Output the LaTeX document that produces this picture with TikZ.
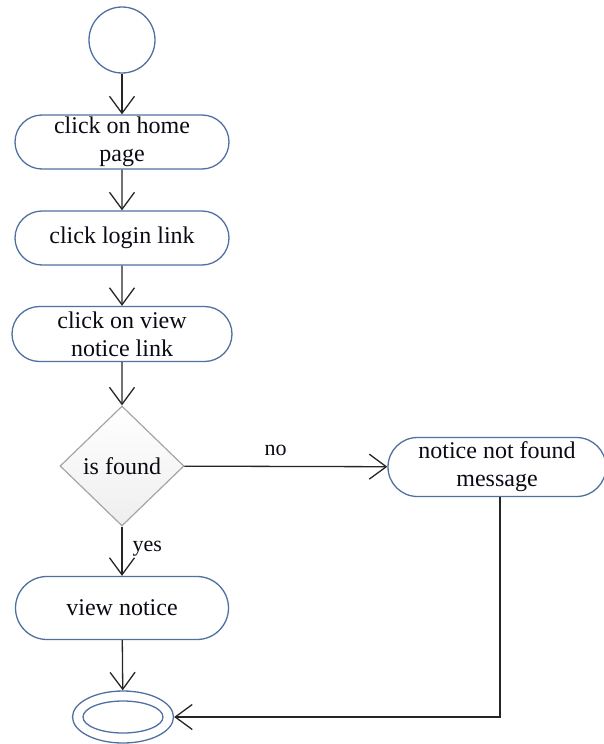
\documentclass[tikz,border=0pt]{standalone}
\usepackage{fontspec}
\setmainfont{Liberation Serif}
\usetikzlibrary{arrows.meta,shapes.geometric,shapes.misc}
\definecolor{edgeblue}{RGB}{80,112,160}
\definecolor{diagray}{RGB}{165,165,165}
\definecolor{fillgray}{RGB}{238,238,238}
\definecolor{ink}{RGB}{10,10,20}
\tikzset{
  action/.style={draw=edgeblue, line width=1.3pt, rounded rectangle, align=center,
    font=\fontsize{24}{28}\selectfont, text=ink, inner sep=0pt},
  decision/.style={draw=diagray, line width=1.2pt, diamond, aspect=1.03,
    top color=white, bottom color=fillgray, minimum width=124pt, minimum height=120pt,
    inner sep=0pt, font=\fontsize{24}{28}\selectfont, text=ink},
  barb/.tip={Straight Barb[length=17pt,width=25pt,line width=1.3pt]},
  flow/.style={draw=black!85, line width=1.3pt, -barb},
  lbl/.style={font=\fontsize{22}{26}\selectfont, text=ink, inner sep=0pt}
}
\begin{document}
\begin{tikzpicture}[x=1pt,y=-1pt]
  \useasboundingbox (0,0) rectangle (604,744);
  % start state
  \node[draw=edgeblue, line width=1.3pt, circle, minimum size=66pt, inner sep=0pt] (start) at (122,40) {};
  % actions
  \node[action, minimum width=214pt, minimum height=54pt] (home) at (122,142) {click on home\\page};
  \node[action, minimum width=214pt, minimum height=54pt] (login) at (122,238) {click login link};
  \node[action, minimum width=220pt, minimum height=55pt] (view) at (122,334) {click on view\\notice link};
  \node[decision] (found) at (122,466) {is found};
  \node[action, minimum width=213pt, minimum height=63pt] (show) at (122,608) {view notice};
  \node[action, minimum width=218pt, minimum height=59pt] (miss) at (497,467) {notice not found\\message};
  % final state
  \node[draw=edgeblue, line width=1.3pt, ellipse, minimum width=101pt, minimum height=52pt, inner sep=0pt] (final) at (123,717) {};
  \node[draw=edgeblue, line width=1.3pt, ellipse, minimum width=80pt, minimum height=32pt, inner sep=0pt] (finalin) at (123,717) {};
  \coordinate (corner) at (500,717);
  % flows
  \draw[flow] (start) -- (home);
  \draw[flow] (home) -- (login);
  \draw[flow] (login) -- (view);
  \draw[flow] (view) -- (found);
  \draw[flow] (found) -- node[lbl, above, pos=0.45, yshift=10pt] {no} (miss);
  \draw[flow] (found) -- node[lbl, right, pos=0.45, xshift=10pt] {yes} (show);
  \draw[flow] (show) -- (final);
  \draw[flow] (miss.south -| corner) -- (corner) -- (final);
\end{tikzpicture}
\end{document}
